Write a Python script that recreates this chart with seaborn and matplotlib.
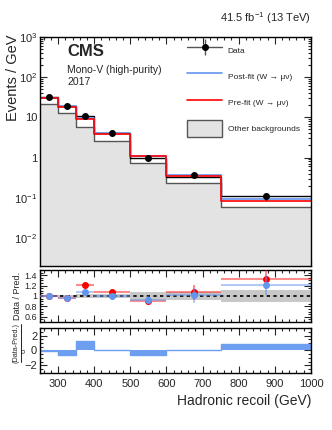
import numpy as np
import pandas as pd
import matplotlib
matplotlib.use("Agg")
import matplotlib.pyplot as plt
import matplotlib.ticker as mticker
from matplotlib.lines import Line2D
from matplotlib.patches import Patch
import seaborn as sns

# ---- values ----
bin_edges = [250, 300, 350, 400, 500, 600, 750, 1000]
data_vals = [31.6, 19.0, 11.0, 4.1, 1.0, 0.37, 0.11]
data_err = [0.8, 0.6, 0.45, 0.2, 0.08, 0.04, 0.02]
stack_total = [31.5, 19.0, 10.8, 4.1, 0.95, 0.33, 0.11]
postfit_vals = [31.0, 19.0, 9.8, 4.0, 1.1, 0.37, 0.093]
prefit_vals = [30.0, 18.5, 9.3, 3.9, 1.12, 0.355, 0.084]
other_bkg = [22.0, 13.0, 5.7, 2.6, 0.74, 0.237, 0.059]

ratio_pre = [1.0, 0.97, 1.21, 1.08, 0.90, 1.07, 1.33]
ratio_post = [1.0, 0.97, 1.08, 1.00, 0.92, 1.01, 1.21]
ratio_err = [0.02, 0.02, 0.04, 0.04, 0.08, 0.14, 0.2]
band_unc = [0.02, 0.02, 0.03, 0.04, 0.07, 0.08, 0.12]

pulls = [-0.1, -0.6, 1.35, 0.05, -0.65, 0.1, 0.9]

edges = np.array(bin_edges, dtype=float)
centers = 0.5 * (edges[1:] + edges[:-1])
halfw = 0.5 * (edges[1:] - edges[:-1])

def stepped(v):
    return np.append(v, v[-1])

# ---- style ----
sns.set_style("ticks")
plt.rcParams['font.family'] = ['Liberation Sans', 'DejaVu Sans']
plt.rcParams['mathtext.fontset'] = 'custom'
plt.rcParams['mathtext.rm'] = 'Liberation Sans'
plt.rcParams['mathtext.it'] = 'Liberation Sans:italic'
plt.rcParams['mathtext.sf'] = 'Liberation Sans'

BLUE = '#6495ed'
GRAY = '#e3e3e3'

fig = plt.figure(figsize=(3.32, 4.30), dpi=100)
ax = fig.add_axes([0.1205, 0.3814, 0.816, 0.5326])
axr = fig.add_axes([0.1205, 0.2512, 0.816, 0.121])
axp = fig.add_axes([0.1205, 0.1319, 0.816, 0.106])

# ---- main panel ----
ax.set_yscale('log')
ax.fill_between(edges, stepped(other_bkg), 1e-5, step='post', color=GRAY, lw=0)
ax.fill_between(edges, stepped(other_bkg), stepped(stack_total), step='post', color='white', lw=0)

for vals, col, lw in [(other_bkg, '#555555', 1.0), (stack_total, 'black', 1.0),
                      (postfit_vals, BLUE, 1.2), (prefit_vals, 'red', 1.2)]:
    df = pd.DataFrame({'recoil': centers, 'val': vals})
    sns.histplot(data=df, x='recoil', weights='val', bins=bin_edges, element='step',
                 fill=False, color=col, linewidth=lw, ax=ax)

ax.errorbar(centers, data_vals, yerr=data_err, fmt='o', color='black', ms=4,
            elinewidth=1, capsize=0, zorder=5)

ax.set_xlim(250, 1000)
ax.set_ylim(0.002, 1000)
ax.set_xlabel('')
ax.set_ylabel('Events / GeV', fontsize=10.5)
ax.yaxis.set_label_coords(-0.1, 0.82)
ax.yaxis.label.set_va('center')
ax.yaxis.label.set_ha('center')
ax.yaxis.set_major_locator(mticker.LogLocator(base=10, numticks=10))
ax.yaxis.set_minor_locator(mticker.LogLocator(base=10, subs=np.arange(2, 10), numticks=20))

def log_fmt(v, pos):
    if np.isclose(v, 1):
        return '1'
    if np.isclose(v, 10):
        return '10'
    return r'$10^{%d}$' % int(round(np.log10(v)))

ax.yaxis.set_major_formatter(mticker.FuncFormatter(log_fmt))
ax.yaxis.set_minor_formatter(mticker.NullFormatter())

fig.text(311 / 332, 1 - 18 / 430, r'41.5 fb$^{-1}$ (13 TeV)', ha='right', va='center', fontsize=8)
fig.text(67 / 332, 1 - 51 / 430, 'CMS', ha='left', va='center', fontsize=12, fontweight='bold')
fig.text(67 / 332, 1 - 70 / 430, 'Mono-V (high-purity)', ha='left', va='center', fontsize=7.5)
fig.text(67 / 332, 1 - 82 / 430, '2017', ha='left', va='center', fontsize=7.5)

data_handle = (Line2D([], [], color='#555555', lw=1),
               Line2D([], [], marker='|', ms=11, mew=1, color='#555555', ls='none'),
               Line2D([], [], marker='o', ms=4, color='black', ls='none'))
handles = [data_handle,
           Line2D([], [], color=BLUE, lw=1.2),
           Line2D([], [], color='red', lw=1.2),
           Patch(facecolor=GRAY, edgecolor='#555555', lw=1)]
labels = ['Data', 'Post-fit (W \u2192 \u03bc\u03bd)', 'Pre-fit (W \u2192 \u03bc\u03bd)', 'Other backgrounds']
fig.legend(handles, labels, loc='upper left', bbox_to_anchor=(187 / 332, 1 - 42 / 430),
           frameon=False, fontsize=6, handlelength=4.2, handleheight=2.6,
           handletextpad=0.7, labelspacing=1.2, borderpad=0, borderaxespad=0)

# ---- ratio panel ----
axr.fill_between(edges, 1 - stepped(band_unc), 1 + stepped(band_unc), step='post',
                 color='#c8c8c8', lw=0)
axr.axhline(1, color='black', ls=(0, (2, 2)), lw=1.2, zorder=3)
axr.errorbar(centers, ratio_pre, xerr=halfw, yerr=ratio_err, fmt='o', color='red', ms=4,
             ecolor=(1, 0, 0, 0.45), elinewidth=1.5, capsize=0, zorder=4)
axr.errorbar(centers, ratio_post, xerr=halfw, yerr=ratio_err, fmt='o', color=BLUE, ms=4,
             ecolor=(0.39, 0.58, 0.93, 0.6), elinewidth=1.2, capsize=0, zorder=5)
axr.set_xlim(250, 1000)
axr.set_ylim(0.5, 1.5)
axr.set_yticks([0.6, 0.8, 1.0, 1.2, 1.4])
axr.yaxis.set_major_formatter(mticker.FormatStrFormatter('%g'))
axr.yaxis.set_minor_locator(mticker.MultipleLocator(0.05))
axr.set_ylabel('Data / Pred.', fontsize=6.5, labelpad=2)

# ---- pull panel ----
axp.stairs(pulls, edges, baseline=0, fill=True, color='#6d9ef0', lw=0)
axp.stairs(pulls, edges, baseline=None, color='#6d9ef0', lw=1)
axp.set_xlim(250, 1000)
axp.set_ylim(-3.1, 3.1)
axp.set_yticks([-2, 0, 2])
axp.yaxis.set_minor_locator(mticker.MultipleLocator(0.5))
axp.set_xlabel('Hadronic recoil (GeV)', fontsize=10, loc='right', labelpad=4)

# pull y-label written as a small stacked fraction
fig.text(16.5 / 332, 1 - 343 / 430, '(Data-Pred.)', rotation=90, ha='center', va='center', fontsize=5.2)
fig.text(24 / 332, 1 - 351 / 430, '\u03c3', rotation=90, ha='center', va='center', fontsize=5.5)
fig.add_artist(Line2D([20.5 / 332, 20.5 / 332], [1 - 324 / 430, 1 - 362 / 430],
                      color='black', lw=0.6, transform=fig.transFigure))

for a in (ax, axr, axp):
    a.xaxis.set_major_locator(mticker.MultipleLocator(100))
    a.xaxis.set_minor_locator(mticker.MultipleLocator(20))
    a.tick_params(which='both', direction='in', top=True, right=True, width=0.8)
    a.tick_params(which='major', length=5)
    a.tick_params(which='minor', length=2.5)
    for s in a.spines.values():
        s.set_linewidth(1)
        s.set_color('black')

ax.tick_params(axis='x', labelbottom=False)
axr.tick_params(axis='x', labelbottom=False)
ax.tick_params(axis='y', labelsize=8, pad=2)
axr.tick_params(axis='y', labelsize=6.5, pad=2)
axp.tick_params(axis='y', labelsize=8, pad=2)
axp.tick_params(axis='x', labelsize=8, pad=4)

fig.savefig('out.png', dpi=100)
